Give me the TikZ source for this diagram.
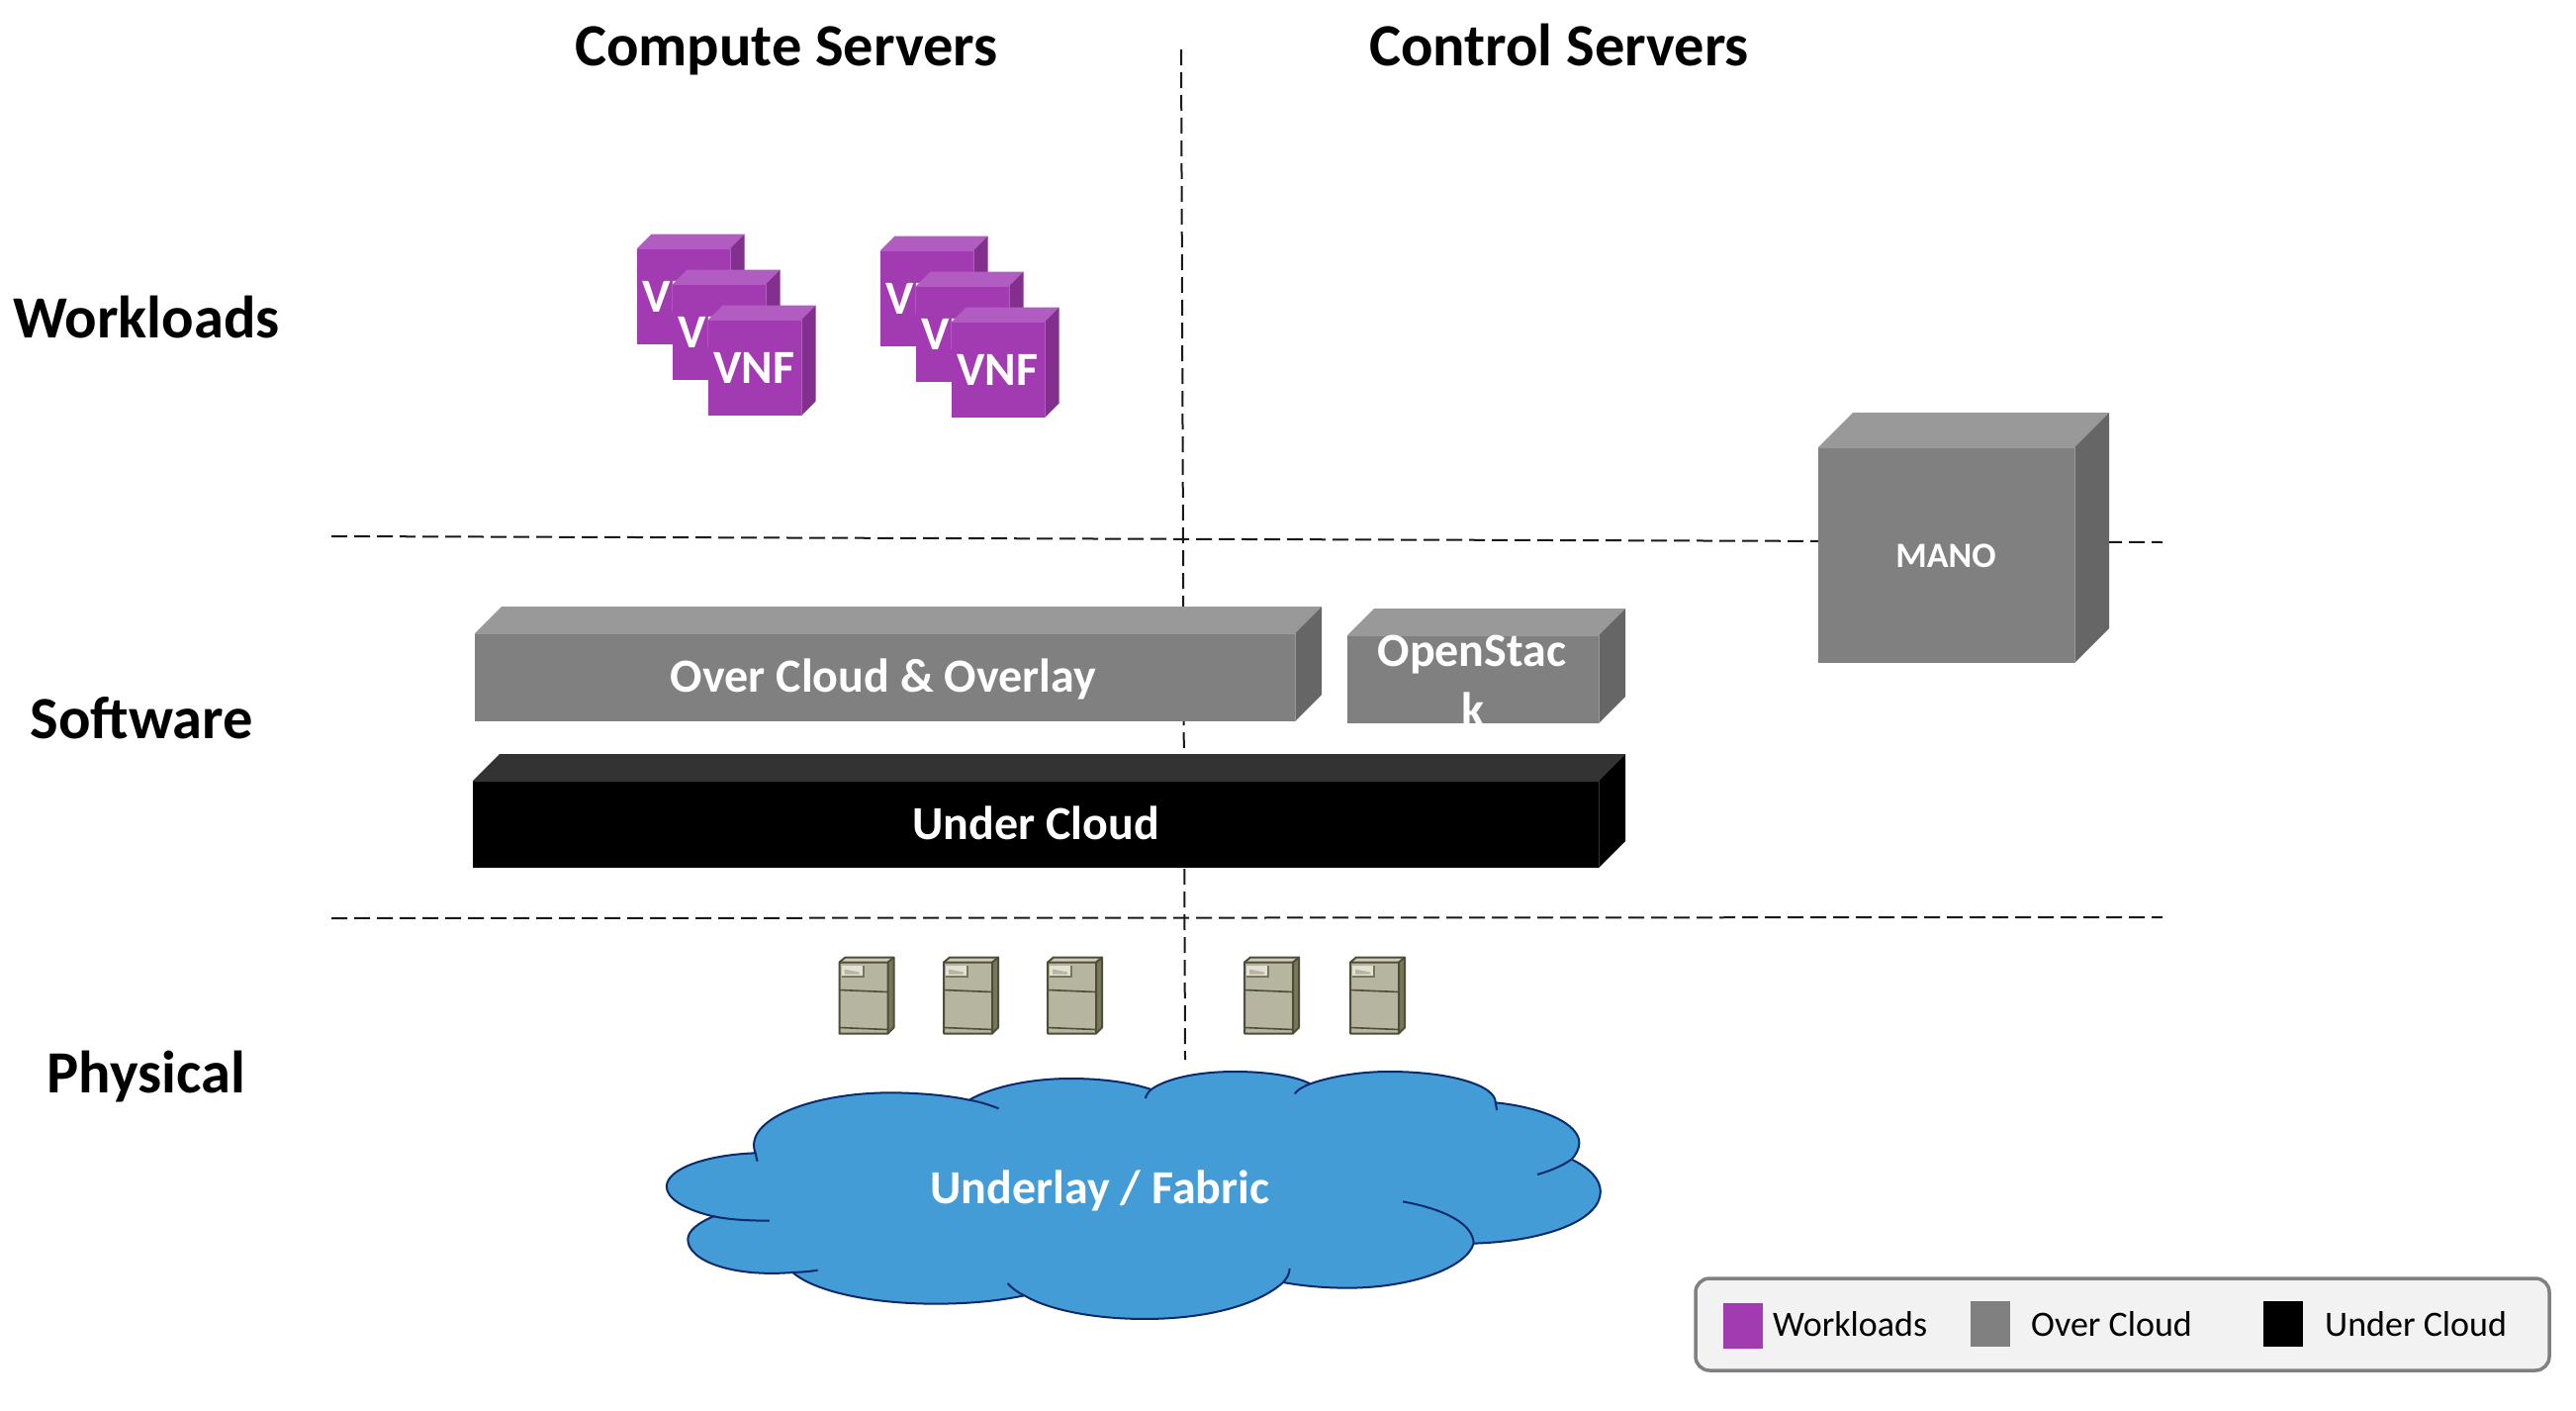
\documentclass[tikz,border=0pt]{standalone}
\usepackage{fontspec}
\setmainfont{Carlito}
\definecolor{vnffront}{HTML}{A23BB2}
\definecolor{vnftop}{HTML}{B15CC0}
\definecolor{vnfside}{HTML}{822F8E}
\definecolor{grayfront}{HTML}{808080}
\definecolor{graytop}{HTML}{999999}
\definecolor{grayside}{HTML}{666666}
\definecolor{blacktop}{HTML}{333333}
\definecolor{srvfront}{HTML}{B6B6A0}
\definecolor{srvtop}{HTML}{CDCDBA}
\definecolor{srvside}{HTML}{77775B}
\definecolor{srvline}{HTML}{4E4E38}
\definecolor{cloudfill}{HTML}{439CD6}
\definecolor{cloudline}{HTML}{0B2A6B}
\definecolor{legendfill}{HTML}{F2F2F2}
\newcommand{\fsz}[1]{\fontsize{#1}{#1}\selectfont}
\tikzset{
  divider/.style={black!90,line width=2pt,dash pattern=on 16pt off 7pt},
  heading/.style={inner sep=0pt,anchor=base,font=\fsz{60.5}\bfseries,text=black},
  boxlabel/.style={inner sep=0pt,anchor=base,font=\fsz{48}\bfseries,text=white},
  keylabel/.style={inner sep=0pt,anchor=base west,font=\fsz{36},text=black},
}
\newcommand{\cubeshape}[9]{%
  \fill[#7] (#2,#3) -- ++(#6,-#6) -- (#4+#6,#3-#6) -- (#4,#3) -- cycle;
  \fill[#9] (#4,#3) -- (#4+#6,#3-#6) -- (#4+#6,#5-#6) -- (#4,#5) -- cycle;
  \fill[#8] (#2,#3) rectangle (#4,#5);
  \draw[#7,line width=1pt] (#2,#3) -- (#4,#3) -- (#4,#5);
  \coordinate (#1) at (#2,#3);
}
\newcommand{\vnf}[3]{%
  \cubeshape{#1}{#2}{#3}{#2+94}{#3+97}{14.5}{vnftop}{vnffront}{vnfside}
  \node[boxlabel] (#1t) at (#2+46.5,#3+64) {VNF};
}
\newcommand{\srv}[2]{%
  \begin{scope}[shift={(#2,967.5)}]
    \fill[srvtop] (0,5) -- (6,0) -- (55,0) -- (49,5) -- cycle;
    \fill[srvside] (49,5) -- (55,0) -- (55,71) -- (49,77) -- cycle;
    \fill[srvfront] (0,5) rectangle (49,77);
    \draw[srvline,line width=2pt,line join=round] (0,5) -- (6,0) -- (55,0) -- (55,71) -- (49,77) -- (0,77) -- cycle;
    \draw[srvline,line width=2pt] (0,5) -- (49,5) -- (49,77) (49,5) -- (55,0);
    \draw[srvline,line width=1.6pt] (0,33) -- (49,35) (0,71) -- (49,73);
    \fill[srvside] (2,8) rectangle (25,20);
    \fill[srvtop!60!white] (2,8) rectangle (23,18);
    \fill[srvfront] (5,12) -- (20,15) -- (20,17) -- (5,17) -- cycle;
    \coordinate (#1) at (0,0);
  \end{scope}
}
\begin{document}
\begin{tikzpicture}[x=1pt,y=-1pt]
\useasboundingbox (0,0) rectangle (2604,1426);
\fill[white] (0,0) rectangle (2604,1426);
% dividers
\coordinate (hoa) at (335,542); \coordinate (hob) at (2186,548);
\coordinate (hua) at (335,928); \coordinate (hub) at (2186,927);
\coordinate (va) at (1194,50); \coordinate (vb) at (1198,1071);
\draw[divider] (hoa) -- (hob);
\draw[divider] (hua) -- (hub);
\draw[divider] (va) -- (vb);
% headings
\node[heading] (hcompute) at (795,66.5) {Compute Servers};
\node[heading] (hcontrol) at (1576,66.5) {Control Servers};
\node[heading] (hwork) at (148,341.5) {Workloads};
\node[heading] (hsoft) at (143,746.5) {Software};
\node[heading] (hphys) at (148,1104.5) {Physical};
% VNF groups
\vnf{aa}{644}{251}\vnf{ab}{680}{287}\vnf{ac}{716}{323}
\vnf{ba}{890}{253}\vnf{bb}{926}{289}\vnf{bc}{962}{325}
% software
\cubeshape{mano}{1838}{452}{2097}{670}{35}{graytop}{grayfront}{grayside}
\node[boxlabel,font=\fsz{36}\bfseries] (manot) at (1967,573) {MANO};
\cubeshape{over}{480}{640}{1309}{729}{27}{graytop}{grayfront}{grayside}
\node[boxlabel] (overt) at (893,699.5) {Over Cloud \& Overlay};
\cubeshape{stack}{1362}{642}{1616}{731}{27}{graytop}{grayfront}{grayside}
\node[boxlabel] (stackt) at (1488,673) {OpenStac};
\node[boxlabel] (stackk) at (1489,733) {k};
\cubeshape{under}{478}{789}{1616}{877}{27}{blacktop}{black}{black}
\node[boxlabel] (undert) at (1047,848.5) {Under Cloud};
% servers
\srv{sa}{848.5}\srv{sb}{954}\srv{sc}{1059}\srv{sd}{1258}\srv{se}{1365}
% cloud
\begin{scope}[shift={(640,1061)},x=0.6506pt,y=-0.3333pt]
\filldraw[fill=cloudfill,draw=cloudline,line width=2pt]
 (190,313) .. controls (170,210) and (280,130) .. (400,130)
 .. controls (440,130) and (490,138) .. (522,152)
 .. controls (560,110) and (620,87) .. (680,87)
 .. controls (730,87) and (775,100) .. (805,120)
 .. controls (830,85) and (880,66) .. (935,66)
 .. controls (985,66) and (1030,80) .. (1052,103)
 .. controls (1085,80) and (1130,66) .. (1175,66)
 .. controls (1265,66) and (1340,105) .. (1340,160)
 .. controls (1415,175) and (1470,225) .. (1470,282)
 .. controls (1470,300) and (1465,318) .. (1458,332)
 .. controls (1488,360) and (1503,395) .. (1503,430)
 .. controls (1503,515) and (1420,580) .. (1306,587)
 .. controls (1295,660) and (1210,722) .. (1110,722)
 .. controls (1075,722) and (1040,716) .. (1010,705)
 .. controls (970,775) and (890,816) .. (795,816)
 .. controls (715,816) and (645,788) .. (608,745)
 .. controls (565,762) and (520,770) .. (470,770)
 .. controls (365,770) and (280,730) .. (248,675)
 .. controls (155,690) and (85,640) .. (85,575)
 .. controls (85,550) and (100,525) .. (125,505)
 .. controls (80,485) and (52,450) .. (52,415)
 .. controls (52,360) and (115,318) .. (190,313) -- cycle;
\draw[cloudline,line width=2pt]
 (190,313) -- (193,338)
 (522,152) .. controls (540,158) and (555,168) .. (568,178)
 (805,120) .. controls (800,128) and (797,138) .. (796,147)
 (1052,103) .. controls (1040,112) and (1032,122) .. (1028,133)
 (1340,160) -- (1342,183)
 (1458,332) .. controls (1445,350) and (1428,365) .. (1405,378)
 (1306,587) .. controls (1305,530) and (1265,485) .. (1196,460)
 (1010,705) .. controls (1016,692) and (1020,678) .. (1020,663)
 (608,745) .. controls (597,735) and (588,722) .. (582,708)
 (248,675) .. controls (262,674) and (275,672) .. (287,668)
 (125,505) .. controls (150,515) and (180,518) .. (212,518);
\end{scope}
\node[boxlabel] (cloudt) at (1112,1216.5) {Underlay / Fabric};
% legend
\draw[fill=legendfill,draw=grayfront,line width=3.5pt,rounded corners=14pt] (1714,1292) rectangle (2577,1385);
\fill[vnffront] (1742,1317) rectangle (1782,1363);
\fill[grayfront] (1992,1315) rectangle (2032,1361);
\fill[black] (2288,1315) rectangle (2328,1361);
\node[keylabel] (kw) at (1792,1350.5) {Workloads};
\node[keylabel] (ko) at (2053,1350.5) {Over Cloud};
\node[keylabel] (ku) at (2350,1350.5) {Under Cloud};
\end{tikzpicture}
\end{document}
